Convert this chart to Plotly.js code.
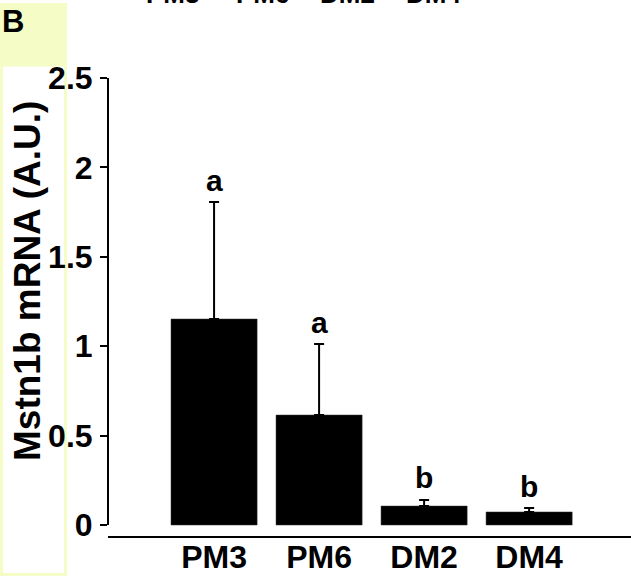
<!DOCTYPE html>
<html>
<head>
<meta charset="utf-8">
<script src="https://cdn.plot.ly/plotly-3.0.1.min.js"></script>
<style>html,body{margin:0;padding:0;background:#fff;}#chart{width:631px;height:576px;}</style>
</head>
<body>
<div id="chart"></div>
<script>
// ---- data ----
const categories = ['PM3', 'PM6', 'DM2', 'DM4'];
const meanValues = [1.152, 0.615, 0.106, 0.073];
const errorValues = [0.654, 0.397, 0.034, 0.022];
const sigLetters = ['a', 'a', 'b', 'b'];
const yTickValues = [0, 0.5, 1, 1.5, 2, 2.5];
const yTickLabels = ['0', '0.5', '1', '1.5', '2', '2.5'];
const topPanelLabels = ['PM3', 'PM6', 'DM2', 'DM4'];

// ---- layout geometry ----
const W = 631, H = 576;
const M = {l: 108, r: 0, t: 78, b: 40};
const PW = W - M.l - M.r, PH = H - M.t - M.b;
const px = p => (p - M.l) / PW;           // pixel x -> paper x
const py = p => (H - M.b - p) / PH;       // pixel y -> paper y
const FONT = 'Liberation Sans, Arial, Helvetica, sans-serif';
const YEL = '#f5fcc6';

const trace = {
  type: 'bar',
  x: categories,
  y: meanValues,
  width: 0.82,
  marker: {color: '#000000', line: {color: '#333', width: 0.5}},
  error_y: {
    type: 'data', symmetric: false,
    array: errorValues,
    arrayminus: errorValues.map(() => 0),
    color: '#000000', thickness: 2, width: 5
  },
  hoverinfo: 'skip'
};

const annotations = [];
categories.forEach((c, i) => {
  annotations.push({
    x: c, y: meanValues[i] + errorValues[i], xref: 'x', yref: 'y',
    text: sigLetters[i], showarrow: false, yanchor: 'middle', yshift: 22,
    font: {family: FONT, size: 30, color: '#000', weight: 'bold'}
  });
});
// y-axis title
annotations.push({
  x: px(27), y: py(281), xref: 'paper', yref: 'paper',
  text: 'Mstn1b mRNA (A.U.)', textangle: -90, showarrow: false,
  xanchor: 'center', yanchor: 'middle',
  font: {family: FONT, size: 37, color: '#000', weight: 'bold'}
});
// panel letter
annotations.push({
  x: px(0), y: py(22), xref: 'paper', yref: 'paper',
  text: 'B', showarrow: false, xanchor: 'left', yanchor: 'middle',
  font: {family: FONT, size: 31, color: '#000', weight: 'bold'}
});
// cut-off labels from the panel above
const topCenters = [172, 262, 347, 433];
topPanelLabels.forEach((t, i) => {
  annotations.push({
    x: px(topCenters[i]), y: py(11), xref: 'paper', yref: 'paper',
    text: t, showarrow: false, xanchor: 'center', yanchor: 'bottom',
    font: {family: FONT, size: 26, color: '#000', weight: 'bold'}
  });
});

const shapes = [
  // yellow filled box behind "B"
  {type: 'rect', xref: 'paper', yref: 'paper', x0: px(0), x1: px(67), y0: py(66), y1: py(3),
   fillcolor: YEL, line: {width: 0}, layer: 'below'},
  // yellow frame down the left
  {type: 'rect', xref: 'paper', yref: 'paper', x0: px(1.5), x1: px(65.5), y0: py(574.5), y1: py(65),
   fillcolor: 'rgba(0,0,0,0)', line: {color: YEL, width: 3}, layer: 'below'},
  // y-axis line from 0 to 2.5
  {type: 'line', xref: 'paper', yref: 'y', x0: 0, x1: 0, y0: 0, y1: 2.5,
   line: {color: '#000', width: 2}}
];

const layout = {
  width: W, height: H,
  margin: M,
  paper_bgcolor: '#ffffff', plot_bgcolor: 'rgba(0,0,0,0)',
  showlegend: false,
  xaxis: {
    type: 'category',
    range: [-1.01, 3.97],
    showline: true, linecolor: '#000', linewidth: 2,
    ticks: '', showgrid: false, zeroline: false,
    tickfont: {family: FONT, size: 32, color: '#000', weight: 'bold'},
    ticklabelstandoff: -8,
    fixedrange: true
  },
  yaxis: {
    range: [-0.0615, 2.5],
    showline: false, showgrid: false, zeroline: false,
    ticks: 'outside', ticklen: 7, tickwidth: 2, tickcolor: '#000',
    tickvals: yTickValues, ticktext: yTickLabels,
    tickfont: {family: FONT, size: 32, color: '#000', weight: 'bold'},
    ticklabelstandoff: 1,
    fixedrange: true
  },
  annotations: annotations,
  shapes: shapes
};

Plotly.newPlot('chart', [trace], layout, {displayModeBar: false, staticPlot: true});
</script>
</body>
</html>
